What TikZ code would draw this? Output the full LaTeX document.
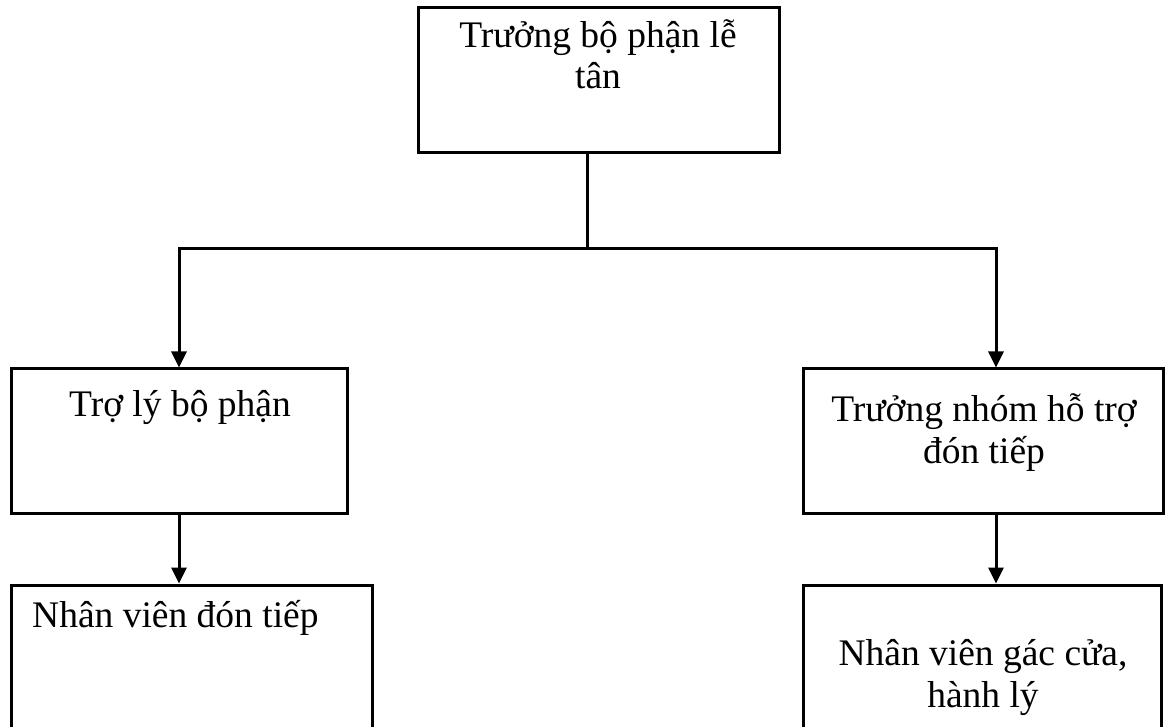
\documentclass[tikz,border=0pt]{standalone}
\usepackage{fontspec}
\setmainfont{Liberation Serif}
\usetikzlibrary{arrows.meta}
\begin{document}
\begin{tikzpicture}[x=1pt,y=-1pt,
  box/.style={draw, line width=3pt, rectangle, inner sep=0pt},
  lbl/.style={font=\fontsize{37.5}{41.5}\selectfont, align=center, inner sep=0pt, anchor=base},
  lblleft/.style={font=\fontsize{37.5}{41.5}\selectfont, inner sep=0pt, anchor=base west},
  conn/.style={line width=3pt},
  arr/.style={conn, -{Triangle[width=15pt,length=16pt]}}]
\clip (0,0) rectangle (1165,727);
\fill[white] (0,0) rectangle (1165,727);
% boxes
\node[box, minimum width=361pt, minimum height=145pt] (top) at (598.5,80.5) {};
\node[box, minimum width=336pt, minimum height=144pt] (ml) at (179,441) {};
\node[box, minimum width=360pt, minimum height=144pt] (mr) at (983,441) {};
\node[box, minimum width=361pt, minimum height=160pt] (bl) at (191.5,665) {};
\node[box, minimum width=358pt, minimum height=160pt] (br) at (982,665) {};
% labels (base anchor = baseline of the last line)
\node[lbl] (ttop) at (598,89) {Trưởng bộ phận lễ\\tân};
\node[lbl] (tml) at (180,416) {Trợ lý bộ phận};
\node[lbl] (tmr) at (984,463) {Trưởng nhóm hỗ trợ\\đón tiếp};
\node[lblleft] (tbl) at (32,627) {Nhân viên đón tiếp};
\node[lbl] (tbr) at (983,707) {Nhân viên gác cửa,\\hành lý};
% connectors
\coordinate (j) at (587,249);
\coordinate (jl) at (179,249);
\coordinate (jr) at (996,249);
\draw[conn] (top.south -| j) -- (j);
\draw[arr] (j) -| (ml.north -| jl);
\draw[arr] (j) -| (mr.north -| jr);
\draw[arr] (ml.south -| jl) -- (bl.north -| jl);
\draw[arr] (mr.south -| jr) -- (br.north -| jr);
\end{tikzpicture}
\end{document}
